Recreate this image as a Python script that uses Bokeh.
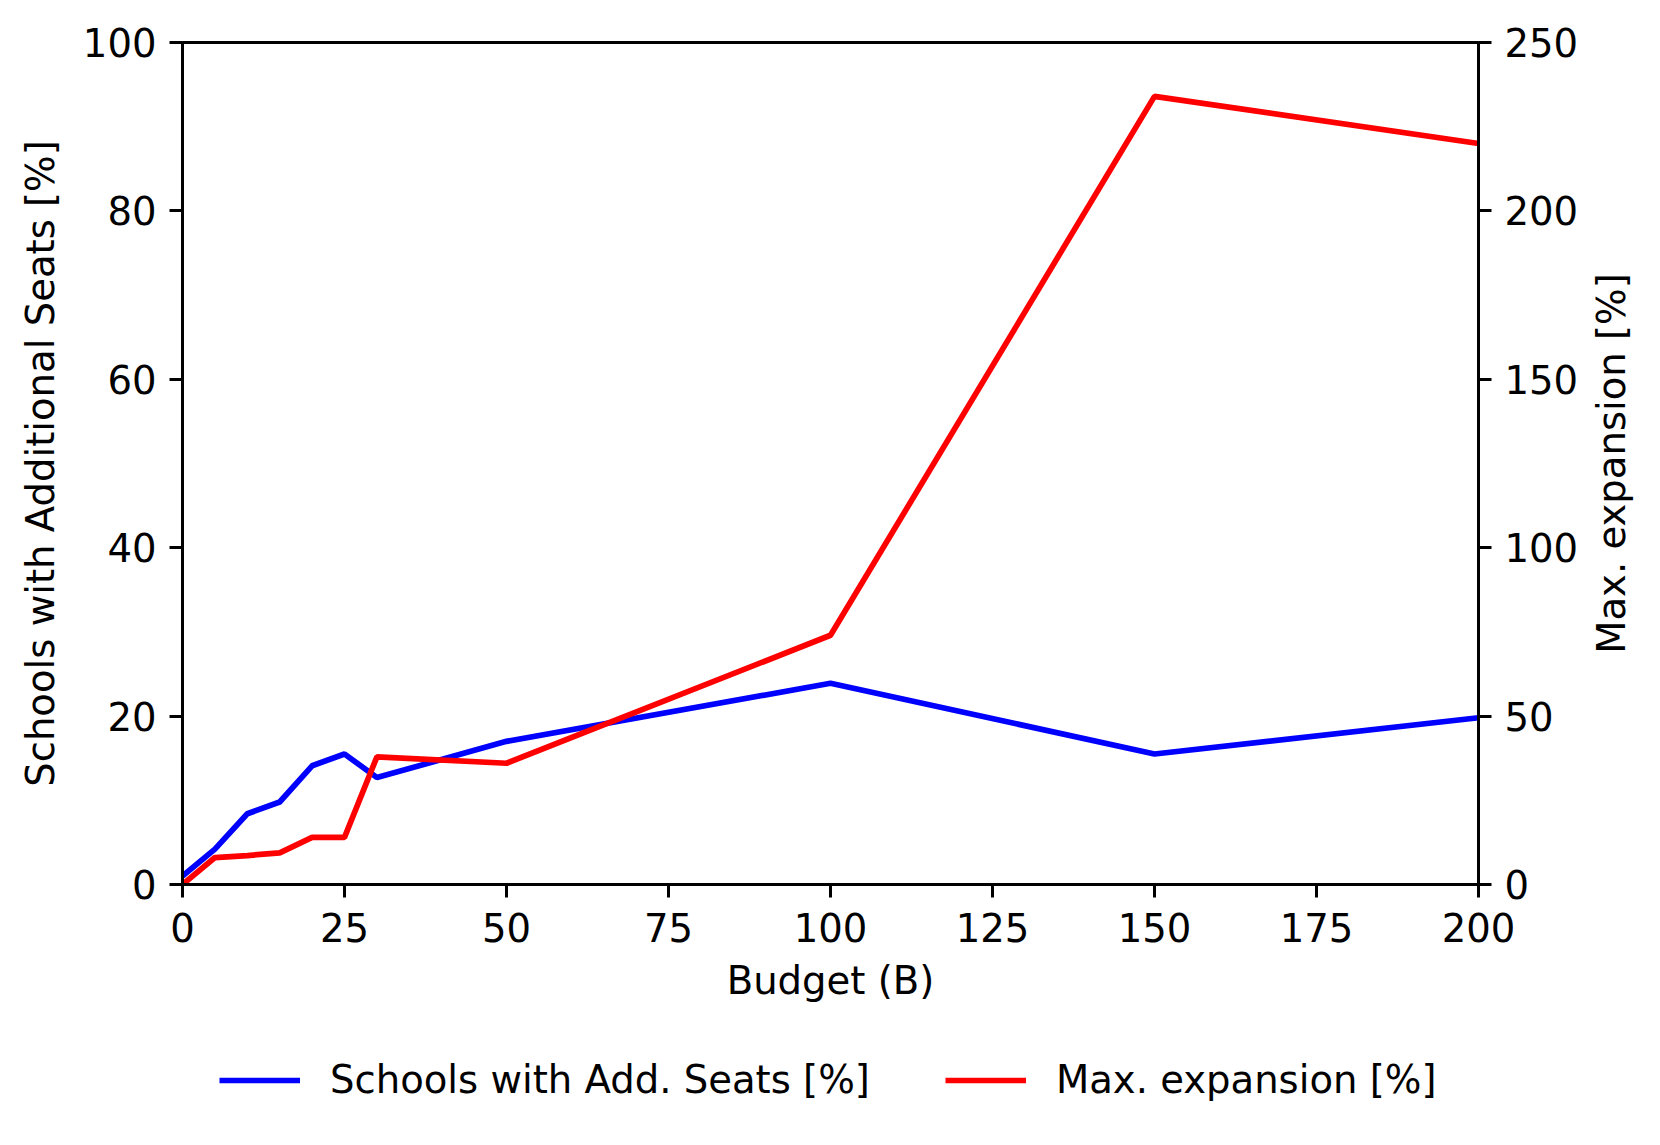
import math
from bokeh.plotting import figure
from bokeh.models import Range1d, LinearAxis, FixedTicker, Legend, LegendItem
from bokeh.layouts import column, row
from bokeh.embed import file_html
from bokeh.resources import INLINE

budget = [0, 5, 10, 15, 20, 25, 30, 50, 100, 150, 200]
schools_pct = [1.0, 4.2, 8.4, 9.8, 14.1, 15.5, 12.7, 17.0, 23.9, 15.5, 19.8]
max_expansion = [0.0, 8.0, 8.6, 9.4, 14.0, 14.0, 37.9, 36.0, 74.0, 234.0, 220.0]

x_ticks = [0, 25, 50, 75, 100, 125, 150, 175, 200]
left_ticks = [0, 20, 40, 60, 80, 100]
right_ticks = [0, 50, 100, 150, 200, 250]

series_labels = ["Schools with Add. Seats [%]", "Max. expansion [%]"]
series_colors = ["#0000ff", "#ff0000"]
series_values = [schools_pct, max_expansion]
right_title = "Max. expansion [%]"

FONT = "DejaVu Sans"
FS = "38.6px"
LW = 5.7

# ---- main chart
p = figure(width=1585, height=1005, output_backend="svg", toolbar_location=None,
           x_range=Range1d(0, 200), y_range=Range1d(0, 100),
           min_border_left=182, min_border_right=107, min_border_top=42, min_border_bottom=117)
p.extra_y_ranges = {"right": Range1d(0, 250)}
p.grid.visible = False
p.outline_line_color = "black"
p.outline_line_width = 3
p.background_fill_color = "white"
p.border_fill_color = "white"

p.line(budget, schools_pct, line_color=series_colors[0], line_width=LW)
p.line(budget, max_expansion, line_color=series_colors[1], line_width=LW, y_range_name="right")

right_axis = LinearAxis(y_range_name="right")
p.add_layout(right_axis, "right")

p.xaxis.axis_label = "Budget (B)"
p.yaxis[0].axis_label = "Schools with Additional Seats [%]"

p.xaxis.ticker = FixedTicker(ticks=x_ticks)
p.yaxis[0].ticker = FixedTicker(ticks=left_ticks)
right_axis.ticker = FixedTicker(ticks=right_ticks)

for ax in [p.xaxis[0], p.yaxis[0], right_axis]:
    ax.axis_line_width = 3
    ax.axis_line_color = "black"
    ax.major_tick_line_width = 3
    ax.major_tick_out = 13
    ax.major_tick_in = 0
    ax.minor_tick_line_color = None
    ax.major_label_text_font = FONT
    ax.major_label_text_font_size = FS
    ax.major_label_text_color = "black"
    ax.axis_label_text_font = FONT
    ax.axis_label_text_font_size = FS
    ax.axis_label_text_font_style = "normal"
    ax.axis_label_text_color = "black"
    ax.major_label_standoff = 13

p.xaxis.major_label_standoff = 15
p.xaxis.axis_label_standoff = 13
p.yaxis[0].axis_label_standoff = 17

# ---- strip to the right carrying the right-axis title (reads bottom-to-top)
rf = figure(width=75, height=1005, output_backend="svg", toolbar_location=None,
            x_range=Range1d(0, 1), y_range=Range1d(0, 250),
            min_border_left=48, min_border_right=0, min_border_top=42, min_border_bottom=117,
            outline_line_color=None)
rf.grid.visible = False
rf.xaxis.visible = False
ra = rf.yaxis[0]
ra.ticker = FixedTicker(ticks=[])
ra.axis_line_color = None
ra.major_tick_line_color = None
ra.minor_tick_line_color = None
ra.major_tick_out = 0
ra.major_label_standoff = 0
ra.axis_label = right_title
ra.axis_label_standoff = 0
ra.axis_label_text_font = FONT
ra.axis_label_text_font_size = FS
ra.axis_label_text_font_style = "normal"
ra.axis_label_text_color = "black"

# ---- legend strip below the chart
lg = figure(width=1660, height=140, output_backend="svg", toolbar_location=None,
            x_range=Range1d(-2, -1), y_range=Range1d(-2, -1),
            min_border_left=182, min_border_right=182, min_border_top=0, min_border_bottom=0,
            outline_line_color=None)
lg.axis.visible = False
lg.grid.visible = False
items = []
for lab, col, vals in zip(series_labels, series_colors, series_values):
    r = lg.line(budget, vals, line_color=col, line_width=LW)
    items.append(LegendItem(label=lab, renderers=[r]))
legend = Legend(items=items, orientation="horizontal", location=(37, 43),
                padding=0, margin=0, spacing=75, glyph_width=81, label_standoff=30,
                border_line_color=None, background_fill_alpha=0,
                label_text_font=FONT, label_text_font_size=FS, label_text_color="black")
lg.add_layout(legend, "center")

open("out.html", "w").write(file_html(column(row(p, rf, spacing=0), lg, spacing=0), INLINE))
